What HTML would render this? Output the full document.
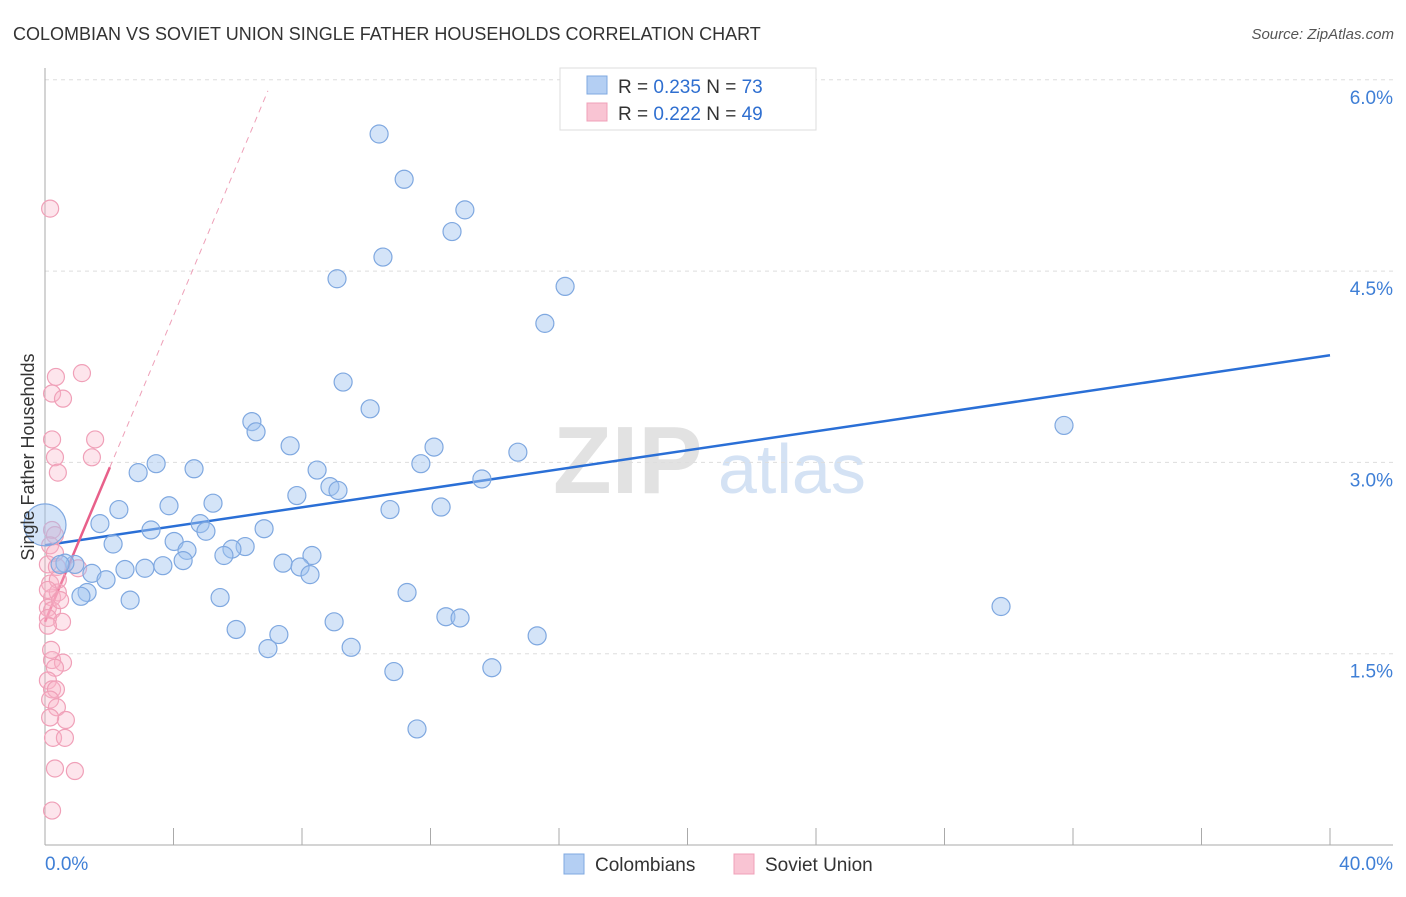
<!DOCTYPE html>
<html><head><meta charset="utf-8"><style>
body{margin:0;background:#fff;font-family:"Liberation Sans",sans-serif}
svg text{font-family:"Liberation Sans",sans-serif}
</style></head><body>
<svg id="chart" width="1406" height="892" viewBox="0 0 1406 892" xmlns="http://www.w3.org/2000/svg">
<text x="13" y="40" font-size="18" fill="#333">COLOMBIAN VS SOVIET UNION SINGLE FATHER HOUSEHOLDS CORRELATION CHART</text>
<text x="1394" y="39" font-size="15" fill="#555" text-anchor="end" font-style="italic">Source: ZipAtlas.com</text>
<g>
<text x="553" y="493" font-size="96" fill="#e2e2e2" font-family="Liberation Serif" font-weight="bold">ZIP</text>
<text x="718" y="493" font-size="70" fill="#d4e2f4">atlas</text>
</g>
<g id="grid"></g>
<g id="axes"></g>
<g id="trends"></g>
<g id="points"></g>
<text transform="translate(34,457) rotate(-90)" font-size="18" fill="#333" text-anchor="middle">Single Father Households</text>
<g>
<rect x="560" y="68" width="256" height="62" fill="#fff" stroke="#ddd"/>
<rect x="587" y="76" width="20" height="18" fill="#b4cff3" stroke="#7fa8e0"/>
<rect x="587" y="103" width="20" height="18" fill="#f9c4d3" stroke="#f0a0b8"/>
<text x="618" y="93" font-size="19" fill="#333">R = <tspan fill="#2f6fd0">0.235</tspan>    N = <tspan fill="#2f6fd0">73</tspan></text>
<text x="618" y="120" font-size="19" fill="#333">R = <tspan fill="#2f6fd0">0.222</tspan>    N = <tspan fill="#2f6fd0">49</tspan></text>
</g>
<g>
<rect x="564" y="854" width="20" height="20" fill="#b4cff3" stroke="#7fa8e0"/>
<text x="595" y="871" font-size="19" fill="#333">Colombians</text>
<rect x="734" y="854" width="20" height="20" fill="#f9c4d3" stroke="#f0a0b8"/>
<text x="765" y="871" font-size="19" fill="#333">Soviet Union</text>
</g>
</svg>
<script>
const blueX=[10.40,11.18,13.07,12.67,10.52,9.09,16.19,15.56,9.28,10.12,6.44,6.57,7.63,12.11,14.72,3.46,4.64,2.90,11.70,8.47,13.60,31.72,7.84,8.87,9.12,3.86,5.23,2.30,10.74,12.33,1.71,4.83,3.30,6.82,5.01,2.12,4.02,4.42,6.23,5.82,5.57,8.31,4.30,3.67,7.41,7.94,3.11,2.49,1.46,8.25,1.90,0.93,0.62,0.47,1.31,1.12,2.65,5.45,11.27,29.76,9.00,12.48,12.92,5.95,7.28,15.32,6.94,9.53,13.91,10.86,11.58,0.00];
const blueY=[5.575,5.22,4.98,4.81,4.61,4.44,4.38,4.09,3.63,3.42,3.32,3.24,3.13,3.12,3.08,2.99,2.95,2.92,2.99,2.94,2.87,3.29,2.74,2.81,2.78,2.66,2.68,2.63,2.63,2.65,2.52,2.52,2.47,2.48,2.46,2.36,2.38,2.31,2.34,2.32,2.27,2.27,2.23,2.19,2.21,2.18,2.17,2.16,2.13,2.12,2.08,2.20,2.21,2.20,1.98,1.95,1.92,1.94,1.98,1.87,1.75,1.79,1.78,1.69,1.65,1.64,1.54,1.55,1.39,1.36,0.91,2.51];
const blueBig=[71];
const pinkX=[0.16,0.34,1.15,0.22,0.56,0.22,1.56,0.31,1.46,0.40,0.22,0.31,0.16,0.31,0.09,0.37,1.03,0.16,0.22,0.40,0.09,0.22,0.53,0.09,0.22,0.56,0.31,0.09,0.22,0.34,0.16,0.37,0.65,0.16,0.25,0.62,0.31,0.93,0.22,0.40,0.09,0.19,0.47,0.09];
const pinkY=[4.99,3.67,3.70,3.54,3.50,3.18,3.18,3.04,3.04,2.92,2.47,2.43,2.35,2.29,2.20,2.18,2.17,2.05,1.94,1.98,1.86,1.84,1.75,1.78,1.45,1.43,1.39,1.29,1.22,1.22,1.14,1.08,0.98,1.00,0.84,0.84,0.60,0.58,0.27,2.08,1.72,1.53,1.92,2.00];
const yTicks=[1.5,3.0,4.5,6.0];
const yTickLabels=["1.5%","3.0%","4.5%","6.0%"];
const xTickLabels=["0.0%","40.0%"];
const blueTrend=[2.35,3.84];
const pinkTrend=[1.75,0.6];

const NS="http://www.w3.org/2000/svg";
const X0=45,X1=1330,Y0=845,PX=(X1-X0)/40,PY=191.3/1.5;
const sx=v=>X0+v*PX, sy=v=>Y0-v*PY;
function mk(tag,attrs,parent){const e=document.createElementNS(NS,tag);for(const k in attrs)e.setAttribute(k,attrs[k]);parent.appendChild(e);return e;}
const grid=document.getElementById('grid'),axes=document.getElementById('axes'),trends=document.getElementById('trends'),pts=document.getElementById('points');
yTicks.forEach((t,i)=>{
 const l=mk('line',{x1:X0,x2:1393,y1:sy(t),y2:sy(t),stroke:'#ddd','stroke-dasharray':'4,4'},grid);
 
 
 const tx=mk('text',{x:1393,y:sy(t)+24,'font-size':19,fill:'#3f7fd6','text-anchor':'end'},axes);
 tx.textContent=yTickLabels[i];
 
 
});
mk('line',{x1:X0,x2:X0,y1:68,y2:Y0,stroke:'#aaa'},axes);
mk('line',{x1:X0,x2:1393,y1:Y0,y2:Y0,stroke:'#aaa'},axes);
for(let i=1;i<=10;i++){const x=sx(i*4);const t=mk('line',{x1:x,x2:x,y1:828,y2:Y0,stroke:'#aaa'},axes);
 
 }
const xl0=mk('text',{x:45,y:870,'font-size':19,fill:'#3f7fd6'},axes);xl0.textContent=xTickLabels[0];


const xl1=mk('text',{x:1393,y:870,'font-size':19,fill:'#3f7fd6','text-anchor':'end'},axes);xl1.textContent=xTickLabels[1];



pinkX.forEach((x,i)=>{const c=mk('circle',{cx:sx(x),cy:sy(pinkY[i]),r:8.5,fill:'rgba(248,180,200,0.35)',stroke:'#f0a0b8','stroke-width':1.2},pts);
 
 });
blueX.forEach((x,i)=>{const big=blueBig.includes(i);const c=mk('circle',{cx:sx(x),cy:sy(blueY[i]),r:big?21:9,fill:'rgba(160,196,240,0.45)',stroke:'#7fa8e0','stroke-width':1.2},pts);
 
 });

const bl=mk('line',{x1:sx(0),y1:sy(blueTrend[0]),x2:sx(40),y2:sy(blueTrend[1]),stroke:'#2a6fd6','stroke-width':2.5},trends);


const pEnd=2.02,pDash=6.94;
const ps=mk('line',{x1:sx(0),y1:sy(pinkTrend[0]),x2:sx(pEnd),y2:sy(pinkTrend[0]+pinkTrend[1]*pEnd),stroke:'#e8608a','stroke-width':2.5},trends);


const pd=mk('line',{x1:sx(pEnd),y1:sy(pinkTrend[0]+pinkTrend[1]*pEnd),x2:sx(pDash),y2:sy(pinkTrend[0]+pinkTrend[1]*pDash),stroke:'#eea0b8','stroke-width':1,'stroke-dasharray':'6,5'},trends);


</script>
</body></html>
